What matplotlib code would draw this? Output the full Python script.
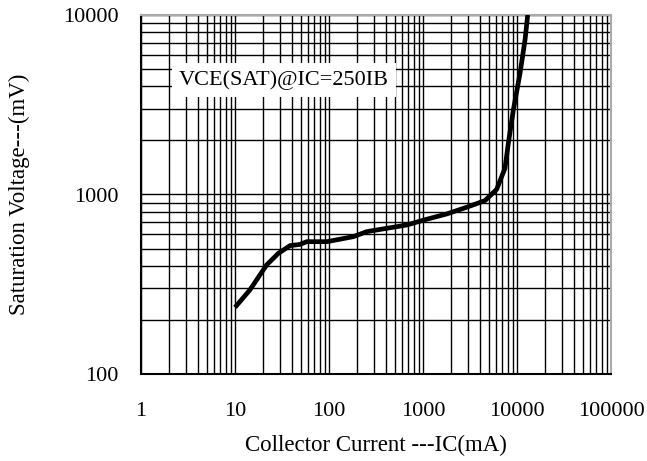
import numpy as np
import matplotlib.pyplot as plt
from matplotlib.ticker import LogLocator, FixedLocator, NullFormatter

plt.rcParams['font.family'] = ['Liberation Serif', 'DejaVu Serif']

# curve: collector current (mA) vs saturation voltage (mV)
ic_ma = [10, 14.4, 21.7, 28.9, 38.5, 49, 58, 95, 181, 252, 411, 671, 1094,
         1786, 2917, 4570, 6083, 6870, 7450, 8090, 9140, 10770, 12170, 13000]
vce_mv = [235, 294, 405, 470, 519, 527, 546, 546, 582, 621, 648, 676, 728,
          779, 849, 925, 1069, 1258, 1400, 1928, 2955, 4734, 7260, 10000]

x_ticks = [1, 10, 100, 1000, 10000, 100000]
x_labels = ["1", "10", "100", "1000", "10000", "100000"]
y_ticks = [100, 1000, 10000]
y_labels = ["100", "1000", "10000"]

fig = plt.figure(figsize=(6.47, 4.61), dpi=100)
ax = fig.add_axes([141/647, 87/461, 470/647, 359/461])

ax.plot(ic_ma, vce_mv, color="black", linewidth=3.4, solid_capstyle="butt", zorder=3)

ax.set_xscale("log")
ax.set_yscale("log")
ax.set_xlim(1, 100000)
ax.set_ylim(100, 10000)

ax.xaxis.set_major_locator(FixedLocator(x_ticks))
ax.yaxis.set_major_locator(FixedLocator(y_ticks))
ax.set_xticklabels(x_labels)
ax.set_yticklabels(y_labels)
ax.xaxis.set_minor_locator(LogLocator(base=10, subs=np.arange(2, 10), numticks=20))
ax.yaxis.set_minor_locator(LogLocator(base=10, subs=np.arange(2, 10), numticks=20))
ax.xaxis.set_minor_formatter(NullFormatter())
ax.yaxis.set_minor_formatter(NullFormatter())

ax.grid(True, which="both", color="black", linewidth=1.0)
ax.set_axisbelow(True)
ax.tick_params(which="both", length=0, labelsize=16)
ax.tick_params(axis="x", pad=20)
ax.tick_params(axis="y", pad=16)

for side in ["top", "right"]:
    ax.spines[side].set_color("#aaaaaa")
    ax.spines[side].set_linewidth(1.5)
for side in ["left", "bottom"]:
    ax.spines[side].set_color("black")
    ax.spines[side].set_linewidth(1.5)

ax.set_xlabel("Collector Current ---IC(mA)", fontsize=16.5, labelpad=10)
ax.set_ylabel("Saturation Voltage---(mV)", fontsize=16.5, labelpad=24)

ax.text(0.304, 0.819, "VCE(SAT)@IC=250IB", transform=ax.transAxes,
        fontsize=16, ha="center", va="center", zorder=4,
        bbox=dict(facecolor="white", edgecolor="none", pad=5))

fig.savefig("out.png", dpi=100)
